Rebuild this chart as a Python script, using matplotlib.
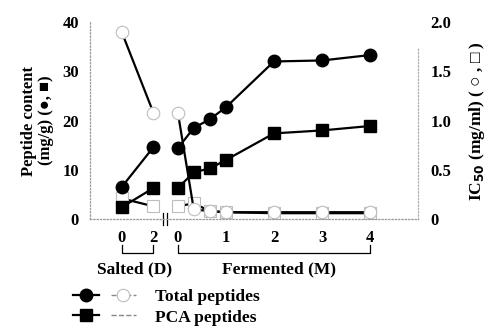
import matplotlib.pyplot as plt
from matplotlib.lines import Line2D
from matplotlib.legend_handler import HandlerTuple

plt.rcParams['font.family'] = ['Liberation Serif', 'DejaVu Sans']
plt.rcParams['font.weight'] = 'bold'

# salting stage (days) and fermentation stage (months)
salted_days = [0, 2]
salted_total = [6.5, 14.6]
salted_pca = [2.4, 6.3]
salted_ic50_total = [1.90, 1.08]
salted_ic50_pca = [0.21, 0.13]

ferm_months = [0, 0.33, 0.67, 1, 2, 3, 4]
ferm_total = [14.4, 18.5, 20.3, 22.7, 32.0, 32.2, 33.3]
ferm_pca = [6.3, 9.5, 10.3, 12.0, 17.4, 18.0, 18.9]
ferm_ic50_total = [1.08, 0.10, 0.08, 0.07, 0.07, 0.07, 0.07]
ferm_ic50_pca = [0.13, 0.16, 0.08, 0.07, 0.06, 0.06, 0.06]

left_ticks = [0, 10, 20, 30, 40]
right_ticks = [0, 0.5, 1.0, 1.5, 2.0]
right_labels = ['0', '0.5', '1.0', '1.5', '2.0']

# salted days are squeezed onto the same axis, left of fermentation month 0
SALT_X0 = -1.17
SALT_STEP = 0.33
salt_x = [SALT_X0 + d * SALT_STEP for d in salted_days]

fig = plt.figure(figsize=(4.89, 3.34), dpi=100)
ax = fig.add_axes([0.184, 0.344, 0.671, 0.590])
ax2 = ax.twinx()

ax.set_xlim(-1.83, 5.0)
ax.set_ylim(0, 40)
ax2.set_ylim(0, 2.0)

filled = dict(color='black', lw=1.6, ms=9, mec='black', mfc='black')
hollow = dict(color='black', lw=1.6, ms=9, mec='#bdbdbd', mfc='white', mew=0.8)

for xs, tot, pca, it, ip in [(salt_x, salted_total, salted_pca, salted_ic50_total, salted_ic50_pca),
                             (ferm_months, ferm_total, ferm_pca, ferm_ic50_total, ferm_ic50_pca)]:
    ax2.plot(xs, ip, marker='s', ls='-', zorder=2, **hollow)
    ax2.plot(xs, it, marker='o', ls='-', zorder=2, **hollow)
    ax.plot(xs, pca, marker='s', zorder=3, **filled)
    ax.plot(xs, tot, marker='o', zorder=3, **filled)

ax.set_zorder(ax2.get_zorder() + 1)
ax.patch.set_visible(False)

for a in (ax, ax2):
    for s in a.spines.values():
        s.set_visible(False)
for side in ('left', 'bottom'):
    ax.spines[side].set_visible(True)
    ax.spines[side].set_linestyle(':')
    ax.spines[side].set_color('#9a9a9a')
    ax.spines[side].set_linewidth(0.9)
ax2.spines['right'].set_visible(True)
ax2.spines['right'].set_linestyle(':')
ax2.spines['right'].set_color('#b0b0b0')
ax2.spines['right'].set_linewidth(0.9)
ax2.spines['right'].set_bounds(0, 1.75)

# axis break between the two stages
brk = ax.get_xaxis_transform()
for bx in (-0.31, -0.22):
    ax.plot([bx, bx], [-0.03, 0.03], color='black', lw=0.9, transform=brk, clip_on=False)

ax.set_yticks(left_ticks)
ax.set_yticklabels([str(t) for t in left_ticks])
ax2.set_yticks(right_ticks)
ax2.set_yticklabels(right_labels)
ax.set_xticks(salt_x + ferm_months[:1] + ferm_months[3:])
ax.set_xticklabels([str(d) for d in salted_days] + ['0', '1', '2', '3', '4'])
ax.tick_params(axis='both', length=0, pad=8, labelsize=12)
ax2.tick_params(axis='y', length=0, pad=9, labelsize=12)
ax.tick_params(axis='x', pad=8)

ax.set_ylabel('Peptide content\n(mg/g) (●, ■)', fontsize=12, fontweight='bold',
              labelpad=6, linespacing=1.1)
ax2.set_ylabel('IC$_{\\mathbf{50}}$ (mg/ml) ( ○ , □ )', fontsize=12.5, fontweight='bold',
               labelpad=11)

# brackets under the tick labels naming each stage
def bracket(x0, x1, label, lx):
    tr = ax.get_xaxis_transform()
    ax.plot([x0, x0, x1, x1], [-0.13, -0.17, -0.17, -0.13], color='black', lw=0.9,
            transform=tr, clip_on=False)
    ax.text(lx, -0.215, label, transform=tr, ha='center', va='top',
            fontsize=12.5, fontweight='bold')

bracket(salt_x[0], salt_x[-1], 'Salted (D)', -0.9)
bracket(ferm_months[0], ferm_months[-1], 'Fermented (M)', 2.1)

h_total = (Line2D([], [], marker='o', **filled),
           Line2D([], [], marker='o', ls='--', color='#888888', lw=1.0, ms=9,
                  mec='#bdbdbd', mfc='white', mew=0.8))
h_pca = (Line2D([], [], marker='s', **filled),
         Line2D([], [], ls='--', color='#888888', lw=1.0))
fig.legend([h_total, h_pca], ['Total peptides', 'PCA peptides'],
           handler_map={tuple: HandlerTuple(ndivide=None, pad=0.7)},
           loc='upper left', bbox_to_anchor=(0.15, 0.135), frameon=False,
           handlelength=3.6, handletextpad=1.1, labelspacing=0.25,
           prop={'size': 12.5, 'weight': 'bold'}, borderaxespad=0, borderpad=0)

fig.savefig('out.png', dpi=100)
